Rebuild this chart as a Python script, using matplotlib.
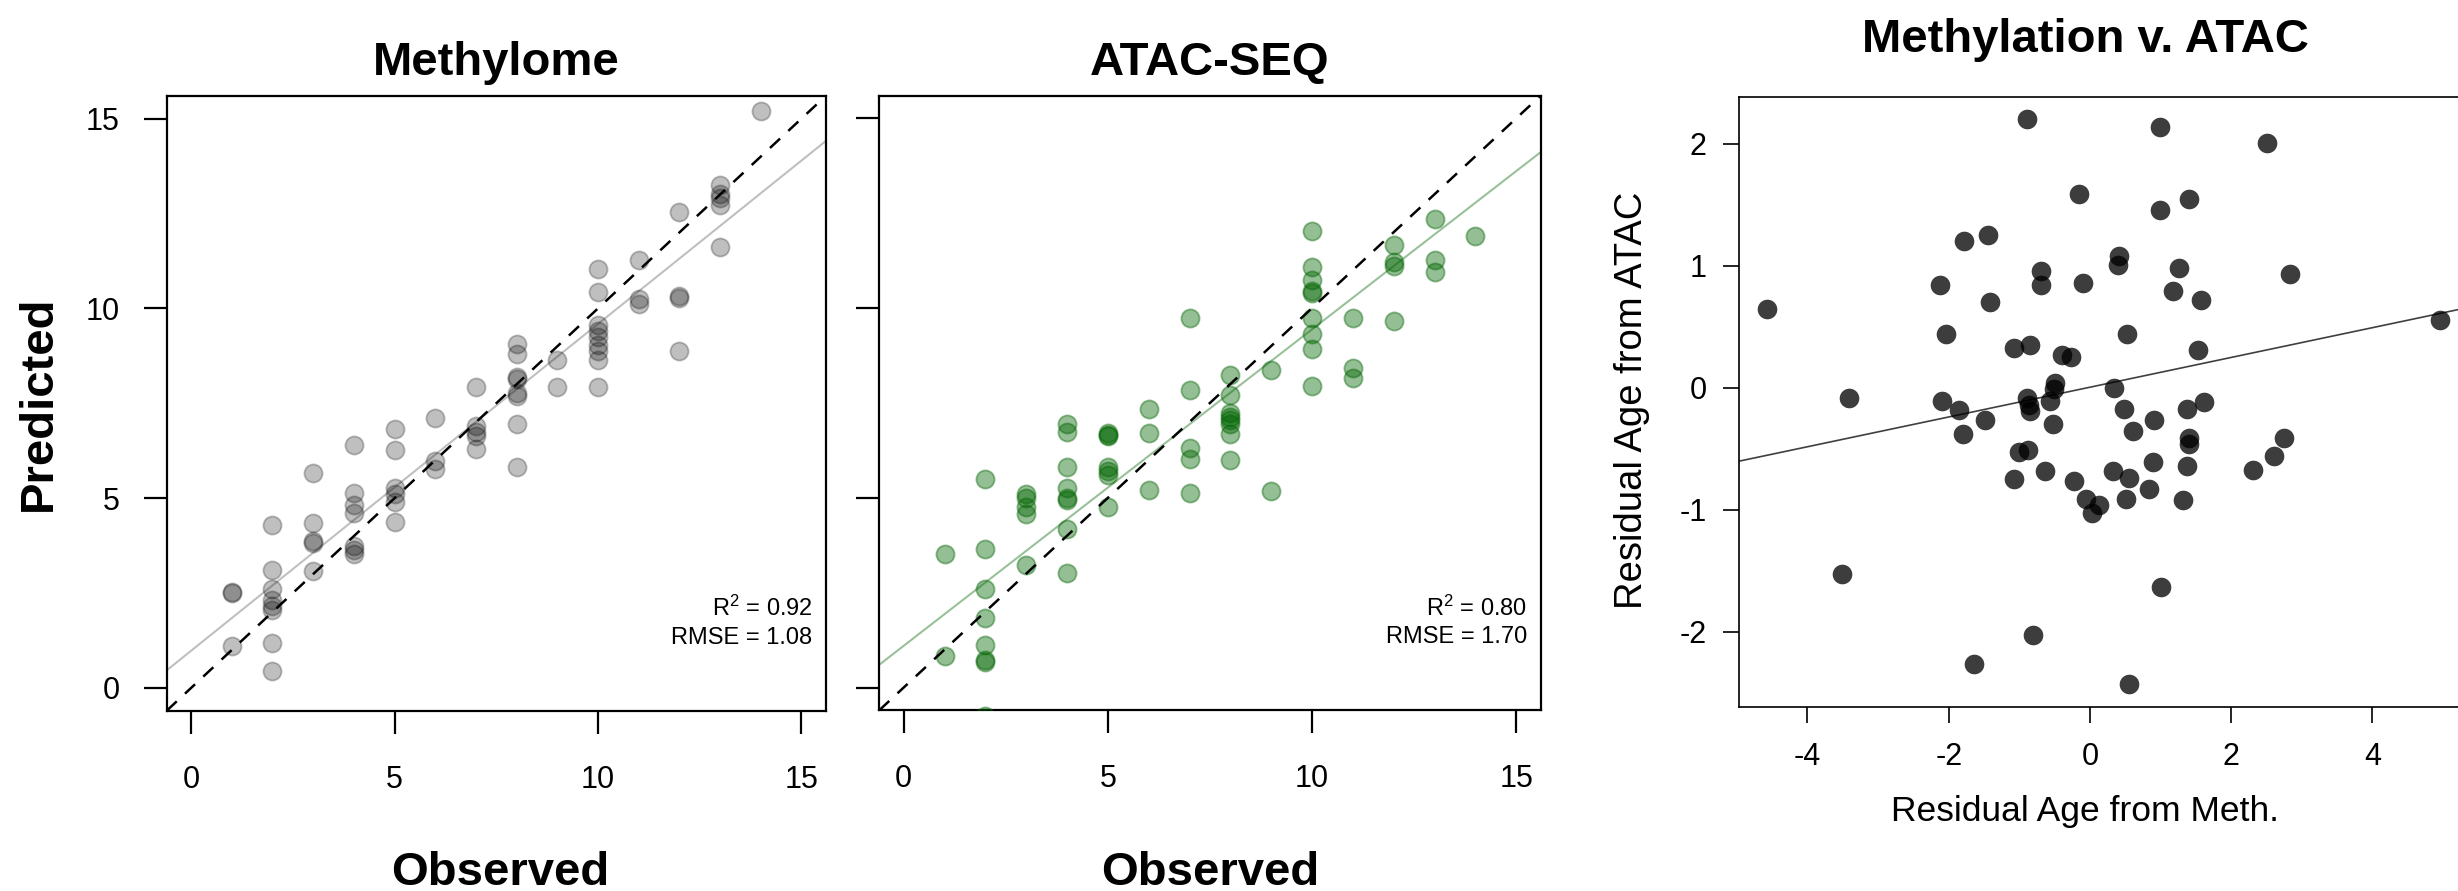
import matplotlib
matplotlib.use("Agg")
import matplotlib.pyplot as plt
import numpy as np

plt.rcParams['font.family'] = ['Liberation Sans', 'DejaVu Sans']
plt.rcParams['mathtext.fontset'] = 'custom'
plt.rcParams['mathtext.rm'] = 'Liberation Sans'
plt.rcParams['mathtext.it'] = 'Liberation Sans:italic'
plt.rcParams['mathtext.bf'] = 'Liberation Sans:bold'

# ---------------- data ----------------
meth_groups = {
    1: [2.54, 2.49, 1.10],
    2: [4.29, 3.12, 2.60, 2.32, 2.16, 2.05, 1.18, 0.44],
    3: [5.67, 4.34, 3.88, 3.82, 3.09],
    4: [6.41, 5.13, 4.83, 4.61, 3.74, 3.63, 3.52],
    5: [6.82, 6.27, 5.27, 5.10, 4.89, 4.36],
    6: [7.12, 5.98, 5.76],
    7: [7.92, 6.90, 6.74, 6.63, 6.30],
    8: [9.06, 8.81, 8.20, 8.14, 7.76, 7.70, 6.96, 5.81],
    9: [8.63, 7.94],
    10: [11.04, 10.44, 9.57, 9.41, 9.25, 9.03, 8.87, 8.65, 7.94],
    11: [11.29, 10.25, 10.12],
    12: [12.54, 10.32, 10.28, 8.87],
    13: [13.26, 13.01, 12.90, 12.74, 11.62],
    14: [15.21],
}
atac_groups = {
    1: [3.52, 0.84],
    2: [5.50, 3.65, 2.59, 1.84, 1.11, 0.73, 0.66, -0.75],
    3: [5.10, 4.99, 4.77, 4.57, 3.22],
    4: [6.95, 6.74, 5.81, 5.26, 4.99, 4.93, 4.17, 3.02],
    5: [6.70, 6.66, 6.63, 5.81, 5.70, 5.59, 4.75],
    6: [7.34, 6.70, 5.21],
    7: [9.75, 7.85, 6.30, 6.03, 5.13],
    8: [8.24, 7.70, 7.23, 7.12, 7.06, 6.95, 6.68, 5.99],
    9: [8.37, 5.19],
    10: [12.03, 11.07, 10.74, 10.45, 10.39, 9.74, 9.33, 8.92, 7.94],
    11: [9.74, 8.43, 8.16],
    12: [11.67, 11.21, 11.12, 9.65],
    13: [12.36, 11.26, 10.96],
    14: [11.89],
}
meth_obs = [k for k, v in meth_groups.items() for _ in v]
meth_pred = [p for v in meth_groups.values() for p in v]
atac_obs = [k for k, v in atac_groups.items() for _ in v]
atac_pred = [p for v in atac_groups.values() for p in v]

meth_fit = (0.98, 0.861)   # intercept, slope
atac_fit = (1.10, 0.834)
meth_stats = ["R$^2$ = 0.92", "RMSE = 1.08"]
atac_stats = ["R$^2$ = 0.80", "RMSE = 1.70"]

resid_meth = [-4.58, -3.41, -3.51, -0.89, 0.99, 2.51, -0.15, 1.41, 0.99, -1.79,
              -1.45, 0.41, 0.40, -0.69, 1.26, 2.83, -2.13, -0.69, -0.10, 1.17,
              1.57, -1.41, 4.96, -2.04, 0.52, -1.08, -0.85, 1.53, -0.39, -0.27,
              -0.50, -0.51, 0.34, -2.09, -0.89, -0.87, -0.85, -0.56, -1.85, -1.48,
              0.48, 1.37, 1.62, 0.91, -1.80, -0.53, 0.61, 1.41, 1.41, 2.75,
              -1.00, -0.88, 2.60, 0.89, 1.38, 2.31, -0.64, 0.33, -1.08, -0.23,
              0.55, 0.83, -0.05, 0.51, 1.32, 0.13, 0.03, 1.00, -0.81, -1.64, 0.56]
resid_atac = [0.65, -0.08, -1.53, 2.20, 2.14, 2.01, 1.59, 1.55, 1.46, 1.20,
              1.25, 1.08, 1.01, 0.96, 0.98, 0.93, 0.84, 0.84, 0.86, 0.79,
              0.72, 0.70, 0.56, 0.44, 0.44, 0.33, 0.35, 0.31, 0.27, 0.25,
              0.04, -0.01, 0.00, -0.11, -0.08, -0.14, -0.19, -0.11, -0.18, -0.26,
              -0.17, -0.17, -0.12, -0.26, -0.38, -0.30, -0.35, -0.41, -0.46, -0.41,
              -0.53, -0.51, -0.56, -0.61, -0.64, -0.67, -0.68, -0.68, -0.75, -0.76,
              -0.74, -0.83, -0.91, -0.91, -0.92, -0.96, -1.03, -1.63, -2.03, -2.26, -2.43]
resid_fit = (0.005, 0.122)

obs_ticks = [0, 5, 10, 15]
resid_xticks = [-4, -2, 0, 2, 4]
resid_yticks = [-2, -1, 0, 1, 2]

# ---------------- figure ----------------
W, H = 2458, 891
fig = plt.figure(figsize=(W / 100, H / 100), dpi=100)

def box(l, t, r, b):
    return [l / W, 1 - b / H, (r - l) / W, (b - t) / H]

ax1 = fig.add_axes(box(166.7, 96.0, 825.7, 710.7))
ax2 = fig.add_axes(box(879.2, 95.6, 1540.7, 710.3))
ax3 = fig.add_axes(box(1739.0, 97.0, 2467.0, 706.7))

grey = (0, 0, 0, 0.25)
green = (0, 100 / 255, 0, 0.42)
green_line = (0, 100 / 255, 0, 0.40)

for ax, xo, yp, col, lcol, fit, stats in [
        (ax1, meth_obs, meth_pred, grey, grey, meth_fit, meth_stats),
        (ax2, atac_obs, atac_pred, green, green_line, atac_fit, atac_stats)]:
    ax.scatter(xo, yp, s=170, facecolor=col, edgecolor=col, linewidth=1.3, zorder=3)
    ax.axline((0, 0), slope=1, color='black', lw=1.8, dashes=(5.5, 4.5), zorder=4)
    ax.axline((0, fit[0]), slope=fit[1], color=lcol, lw=1.5, zorder=2)
    ax.set_xlim(-0.6, 15.6)
    ax.set_ylim(-0.6, 15.6)
    ax.set_xticks(obs_ticks)
    ax.set_yticks(obs_ticks)
    ax.tick_params(length=16.8, width=1.6, labelsize=22, direction='out')
    ax.tick_params(axis='x', pad=22)
    ax.tick_params(axis='y', pad=17)
    for s in ax.spines.values():
        s.set_linewidth(1.6)
    ax.text(0.980, 0.166, stats[0], transform=ax.transAxes, ha='right', va='center', fontsize=17)
    ax.text(0.980, 0.119, stats[1], transform=ax.transAxes, ha='right', va='center', fontsize=17)

ax2.set_yticklabels([])

ax3.scatter(resid_meth, resid_atac, s=200, color=(0, 0, 0, 0.76), linewidth=0, zorder=3)
ax3.axline((0, resid_fit[0]), slope=resid_fit[1], color='#404040', lw=1.2, zorder=2)
ax3.set_xlim(-4.97, 5.34)
ax3.set_ylim(-2.614, 2.384)
ax3.set_xticks(resid_xticks)
ax3.set_yticks(resid_yticks)
ax3.set_xticklabels([str(v) for v in resid_xticks])
ax3.set_yticklabels([str(v) for v in resid_yticks])
ax3.tick_params(length=11.2, width=1.2, labelsize=22, direction='out')
ax3.tick_params(axis='x', pad=14)
ax3.tick_params(axis='y', pad=12)
for s in ax3.spines.values():
    s.set_linewidth(1.2)

def ftext(x, y, s, **kw):
    fig.text(x / W, 1 - y / H, s, **kw)

ftext(496, 75, "Methylome", ha='center', va='baseline', fontsize=34, fontweight='bold')
ftext(1210, 75, "ATAC-SEQ", ha='center', va='baseline', fontsize=34, fontweight='bold')
ftext(2085, 52, "Methylation v. ATAC", ha='center', va='baseline', fontsize=34, fontweight='bold')
ftext(500, 885, "Observed", ha='center', va='baseline', fontsize=34, fontweight='bold')
ftext(1210, 885, "Observed", ha='center', va='baseline', fontsize=34, fontweight='bold')
ftext(50.7, 403.5, "Predicted", ha='center', va='baseline', rotation=90,
      rotation_mode='anchor', fontsize=34, fontweight='bold')
ftext(2085, 821, "Residual Age from Meth.", ha='center', va='baseline', fontsize=25.5)
ftext(1642, 400, "Residual Age from ATAC", ha='center', va='baseline', rotation=90,
      rotation_mode='anchor', fontsize=27.5)

fig.savefig("out.png", dpi=100)
